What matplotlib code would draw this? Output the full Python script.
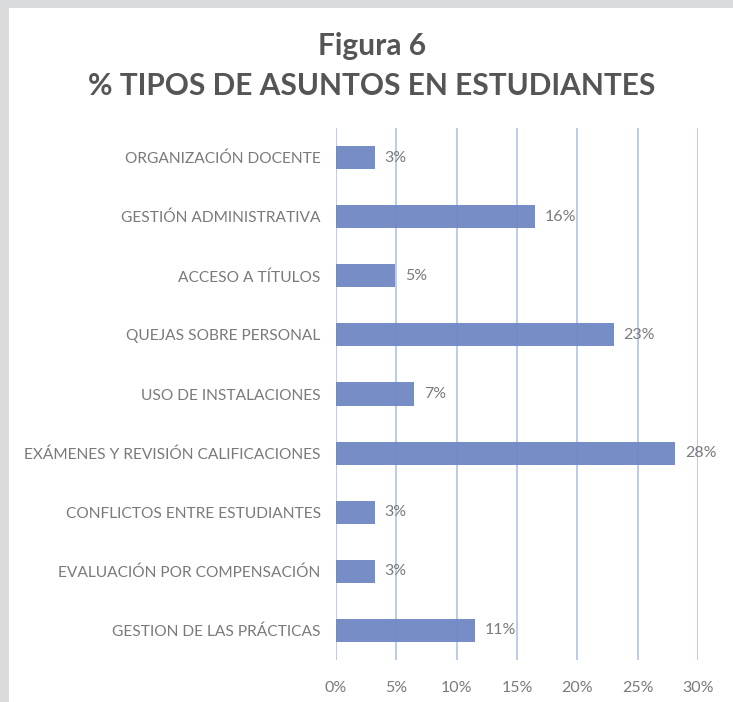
import matplotlib
matplotlib.use("Agg")
import matplotlib.pyplot as plt
from matplotlib.patches import Rectangle

categories = [
    "ORGANIZACIÓN DOCENTE",
    "GESTIÓN ADMINISTRATIVA",
    "ACCESO A TÍTULOS",
    "QUEJAS SOBRE PERSONAL",
    "USO DE INSTALACIONES",
    "EXÁMENES Y REVISIÓN CALIFICACIONES",
    "CONFLICTOS ENTRE ESTUDIANTES",
    "EVALUACIÓN POR COMPENSACIÓN",
    "GESTION DE LAS PRÁCTICAS",
]
values = [3.2, 16.5, 4.9, 23.0, 6.5, 28.1, 3.2, 3.2, 11.5]
value_labels = ["3%", "16%", "5%", "23%", "7%", "28%", "3%", "3%", "11%"]
xticks = [0, 5, 10, 15, 20, 25, 30]
xtick_labels = ["0%", "5%", "10%", "15%", "20%", "25%", "30%"]

FONT = "Lato"
plt.rcParams["font.family"] = [FONT, "DejaVu Sans"]

fig = plt.figure(figsize=(7.33, 7.02), dpi=100)
fig.patch.set_facecolor("#dadbdd")
bg = fig.add_axes([0, 0, 1, 1], zorder=0)
bg.axis("off")
bg.add_patch(Rectangle((9 / 733, 0), 1, 1 - 8 / 702, transform=bg.transAxes,
                       facecolor="white", edgecolor="none"))

ax = fig.add_axes([336 / 733, 42 / 702, 362 / 733, 532 / 702], zorder=2)
ax.set_facecolor("none")
n = len(categories)
ypos = list(range(n))
ax.barh(ypos, values, height=0.39, color="#6f87c2", alpha=0.95, zorder=3)
ax.set_ylim(n - 0.5, -0.5)
ax.set_xlim(0, 30)
ax.set_yticks(ypos)
ax.set_yticklabels(categories, fontsize=11.2, color="#7a7a7a")
ax.set_xticks(xticks)
ax.set_xticklabels(xtick_labels, fontsize=11.5, color="#7a7a7a")
ax.tick_params(axis="y", length=0, pad=11)
ax.tick_params(axis="x", length=0, pad=15)
for s in ax.spines.values():
    s.set_visible(False)
ax.grid(axis="x", color="#aec4e6", linewidth=1.2, zorder=1)
ax.set_axisbelow(True)
for y, v, lab in zip(ypos, values, value_labels):
    ax.annotate(lab, (v, y), xytext=(7, 0), textcoords="offset points",
                ha="left", va="center", fontsize=11.5, color="#7a7a7a", zorder=4)

fig.text(0.507, 0.934, "Figura 6", ha="center", va="center", fontsize=21.5,
         fontweight="bold", color="#555555")
fig.text(0.507, 0.877, "% TIPOS DE ASUNTOS EN ESTUDIANTES", ha="center", va="center",
         fontsize=21.5, fontweight="bold", color="#555555")

fig.savefig("out.png", dpi=100)
